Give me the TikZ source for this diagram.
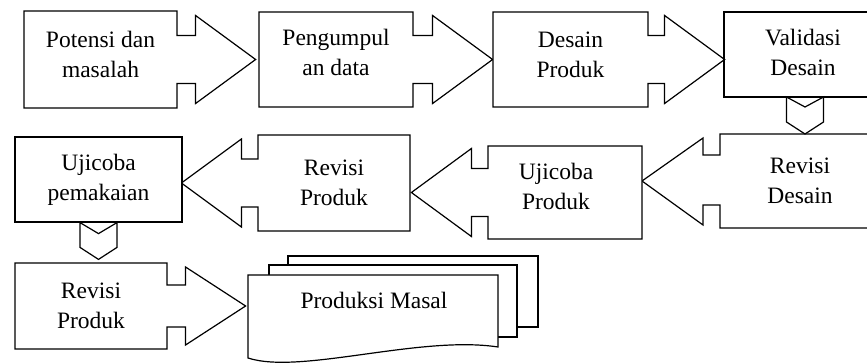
\documentclass[tikz,border=0pt]{standalone}
\usepackage{fontspec}
\setmainfont{Liberation Serif}
\usetikzlibrary{shapes.arrows,calc}

\tikzset{
  txt/.style={font=\fontsize{23.5}{30}\selectfont,align=center},
  stepbox/.style={txt,draw,line width=1.2pt,fill=white,inner sep=0pt},
  arrbox/.style={stepbox,arrow box,arrow box shaft width=48pt,
    arrow box head extend=20pt,arrow box tip angle=72.5},
  edge/.style={draw,line width=1.2pt},
  chev/.style={draw,line width=1.2pt,fill=white},
  page/.style={draw,line width=1.2pt,fill=white},
}

\begin{document}
\begin{tikzpicture}[x=1pt,y=-1pt]
  \useasboundingbox (0,0) rectangle (867,363);
  % first row, left to right
  \node[arrbox,minimum width=153pt,minimum height=97pt,arrow box arrows={east:78pt}]
    (pot) at (100.5,59.5) {};
  \node[txt] (pot-t) at ($(pot)+(0,-5)$) {Potensi dan\\masalah};
  \node[arrbox,minimum width=154pt,minimum height=95pt,arrow box arrows={east:79pt}]
    (kumpul) at (336,59.5) {};
  \node[txt] (kumpul-t) at ($(kumpul)+(0,-7)$) {Pengumpul\\an data};
  \node[arrbox,minimum width=155pt,minimum height=95pt,arrow box arrows={east:76pt}]
    (desain) at (570.5,59.5) {};
  \node[txt] (desain-t) at ($(desain)+(0,-5)$) {Desain\\Produk};
  % last column: box left open, it runs off the right edge
  \node[txt] (valid) at (803,52) {Validasi\\Desain};
  \coordinate (vr) at (867,0);
  \draw[edge] (vr |- {$(valid)+(0,-40)$}) -- ($(valid)+(-79,-40)$)
    -- ($(valid)+(-79,45)$) -- (vr |- {$(valid)+(0,45)$});
  % second row, right to left
  \node[txt] (revdes) at (800,181) {Revisi\\Desain};
  \draw[edge] (vr |- {$(revdes)+(0,-47)$}) -- ($(revdes)+(-80,-47)$)
    -- ++(0,21) -- ++(-17,0) -- ++(0,-17) -- ($(revdes)+(-158,0)$)
    -- ($(revdes)+(-97,44)$) -- ++(0,-20) -- ++(17,0) -- ++(0,23)
    -- (vr |- {$(revdes)+(0,47)$});
  \node[arrbox,minimum width=154pt,minimum height=93pt,arrow box arrows={west:76pt}]
    (ujiprod) at (565,192.5) {};
  \node[txt] (ujiprod-t) at ($(ujiprod)+(-9,-6)$) {Ujicoba\\Produk};
  \node[arrbox,minimum width=152pt,minimum height=96pt,arrow box arrows={west:76pt}]
    (revprod) at (334,183) {Revisi\\Produk};
  \node[stepbox,minimum width=167pt,minimum height=85pt]
    (ujipakai) at (98.5,179.5) {Ujicoba\\pemakaian};
  % third row
  \node[arrbox,minimum width=152pt,minimum height=86pt,arrow box shaft width=42pt,
    arrow box head extend=18pt,arrow box tip angle=66,arrow box arrows={east:78pt}]
    (revprod2) at (91,306) {Revisi\\Produk};
  % stacked pages
  \draw[page] (288,256) rectangle (538,327);
  \draw[page] (269,265) rectangle (517,337);
  \draw[page] (248,275) -- (498,275) -- (498,347)
    .. controls (420,335) and (300,375) .. (248,358) -- cycle;
  \node[txt] (masal) at (374,300) {Produksi Masal};
  % down chevrons between rows
  \coordinate (c1) at ($(valid)+(2,45)$);
  \coordinate (v1) at ($(revdes)+(5,-47)$);
  \draw[chev] ($(c1)+(-18.5,0)$) -- ($(c1)+(0,10)$) -- ($(c1)+(18.5,0)$)
    -- ($(v1)+(18.5,-12)$) -- (v1) -- ($(v1)+(-18.5,-12)$) -- cycle;
  \coordinate (v2) at ($(ujipakai.south |- revprod2.north)+(0,-3)$);
  \draw[chev] ($(ujipakai.south)+(-18.5,0)$) -- ($(ujipakai.south)+(0,11)$)
    -- ($(ujipakai.south)+(18.5,0)$) -- ($(v2)+(18.5,-12)$) -- (v2)
    -- ($(v2)+(-18.5,-12)$) -- cycle;
\end{tikzpicture}
\end{document}
